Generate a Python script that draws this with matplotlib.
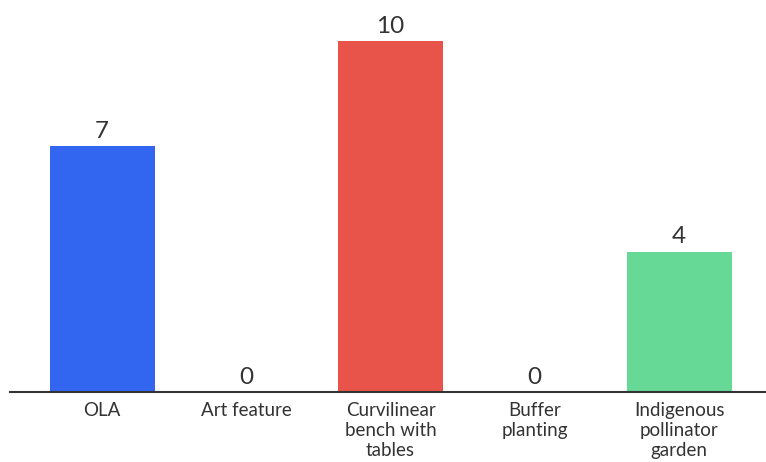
import matplotlib
matplotlib.use("Agg")
import matplotlib.pyplot as plt

categories = ["OLA", "Art feature", "Curvilinear\nbench with\ntables", "Buffer\nplanting", "Indigenous\npollinator\ngarden"]
values = [7, 0, 10, 0, 4]
colors = ["#3366f0", "#3366f0", "#e8534a", "#e8534a", "#66d996"]

plt.rcParams['font.family'] = ['Lato', 'DejaVu Sans']

fig = plt.figure(figsize=(7.66, 4.62), dpi=100)
ax = fig.add_axes([10/766, 70/462, 756/766, 392/462])
x = list(range(len(categories)))
ax.bar(x, values, width=0.728, color=colors)
for xi, v in zip(x, values):
    ax.text(xi, v + 0.12, str(v), ha="center", va="bottom", fontsize=17.5, color="#333333")
ax.set_xlim(-0.638, 4.603)
ax.set_ylim(0, 11.17)
ax.set_xticks(x)
ax.set_xticklabels(categories, fontsize=13.5, color="#333333", linespacing=1.22)
ax.tick_params(axis="x", length=0, pad=7)
ax.set_yticks([])
for s in ["top", "right", "left"]:
    ax.spines[s].set_visible(False)
ax.spines["bottom"].set_color("#333333")
ax.spines["bottom"].set_linewidth(1.5)
fig.savefig("out.png", dpi=100)
